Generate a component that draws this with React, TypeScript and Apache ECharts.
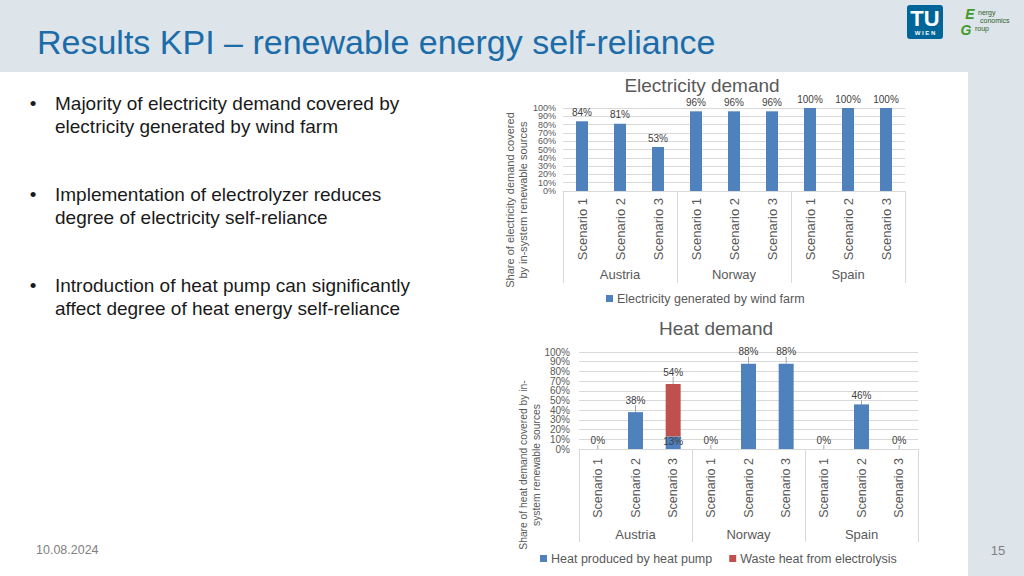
import React, { useEffect, useRef } from "react";
import * as echarts from "echarts";

const scenarios = ["Scenario 1", "Scenario 2", "Scenario 3", "Scenario 1", "Scenario 2", "Scenario 3", "Scenario 1", "Scenario 2", "Scenario 3"];
const countries = ["Austria", "Norway", "Spain"];
const elecSeriesName = "Electricity generated by wind farm";
const elecWind = [84, 81, 53, 96, 96, 96, 100, 100, 100];
const heatPumpName = "Heat produced by heat pump";
const wasteHeatName = "Waste heat from electrolysis";
const heatPump = [0, 38, 13, 0, 88, 88, 0, 46, 0];
const wasteHeat: (number | null)[] = [null, null, 54, null, null, null, null, null, null];
const movedLabels = [1, 4, 5];
const yMin = 0;
const yMax = 100;
const yStep = 10;

const bullets = [
  "Majority of electricity demand covered by\nelectricity generated by wind farm",
  "Implementation of electrolyzer reduces\ndegree of electricity self-reliance",
  "Introduction of heat pump can significantly\naffect degree of heat energy self-reliance",
];

const FONT = "'Liberation Sans', Arial, Helvetica, sans-serif";
const BLUE = "#4F81BD";
const RED = "#C0504D";
const GRID = "#d9d9d9";
const AXIS_TXT = "#595959";
const BAND = "#dde5ea";

export default function App() {
  const ref = useRef<HTMLDivElement>(null);

  useEffect(() => {
    if (!ref.current) return;
    const chart = echarts.init(ref.current, undefined, { renderer: "svg" });

    // inner ticks (10%..90%) with grid lines
    const yAxisInner = (gridIndex: number, fontSize: number, margin: number) => ({
      type: "value",
      gridIndex,
      position: "left",
      min: yMin,
      max: yMax,
      interval: yStep,
      axisLine: { show: false },
      axisTick: { show: false },
      axisLabel: {
        formatter: "{value}%", fontSize, color: AXIS_TXT, fontFamily: FONT, margin,
        showMinLabel: false, showMaxLabel: false,
      },
      splitLine: { show: true, lineStyle: { color: GRID, width: 1 } },
    });
    // end ticks (0% and 100%)
    const yAxisEnds = (gridIndex: number, fontSize: number, margin: number) => ({
      type: "value",
      gridIndex,
      position: "left",
      offset: 0,
      min: yMin,
      max: yMax,
      interval: yMax - yMin,
      axisLine: { show: false },
      axisTick: { show: false },
      axisLabel: {
        formatter: "{value}%", fontSize, color: AXIS_TXT, fontFamily: FONT, margin,
        showMinLabel: true, showMaxLabel: true,
      },
      splitLine: { show: false },
    });

    const scenarioAxis = (gridIndex: number, fontSize: number, margin: number) => ({
      type: "category",
      gridIndex,
      position: "bottom",
      data: scenarios,
      axisLine: { show: true, lineStyle: { color: GRID } },
      axisTick: { show: false },
      axisLabel: { rotate: 90, fontSize, color: AXIS_TXT, fontFamily: FONT, margin, interval: 0 },
    });

    const countryAxis = (gridIndex: number, tickLen: number, margin: number) => ({
      type: "category",
      gridIndex,
      position: "bottom",
      data: countries,
      axisLine: { show: false },
      axisTick: { show: true, length: tickLen, lineStyle: { color: GRID } },
      axisLabel: { fontSize: 13, color: AXIS_TXT, fontFamily: FONT, margin, interval: 0 },
      splitLine: { show: false },
    });

    const labelBase = {
      show: true,
      position: "top",
      distance: 4,
      fontSize: 10,
      color: "#404040",
      fontFamily: FONT,
      formatter: "{c}%",
    };

    const graphics: any[] = [
      { type: "rect", shape: { x: 0, y: 0, width: 1024, height: 72 }, style: { fill: BAND }, silent: true },
      { type: "rect", shape: { x: 968, y: 72, width: 56, height: 504 }, style: { fill: BAND }, silent: true },
      {
        type: "text", x: 37, y: 42,
        style: { text: "Results KPI – renewable energy self-reliance", fill: "#1b6ca8", fontSize: 34, fontFamily: FONT, align: "left", verticalAlign: "middle" },
      },
      // TU logo
      { type: "rect", shape: { x: 907, y: 5, width: 36, height: 34, r: 3 }, style: { fill: "#006699" } },
      { type: "text", x: 925, y: 18, style: { text: "TU", fill: "#fff", fontSize: 22, fontWeight: "bold", fontFamily: FONT, align: "center", verticalAlign: "middle" } },
      { type: "text", x: 925, y: 33, style: { text: "W I E N", fill: "#fff", fontSize: 6, fontWeight: "bold", fontFamily: FONT, align: "center", verticalAlign: "middle" } },
      // EEG logo
      { type: "text", x: 970, y: 14, style: { text: "E", fill: "#3f9a2a", fontSize: 14, fontWeight: "bold", fontStyle: "italic", fontFamily: FONT, align: "center", verticalAlign: "middle" } },
      { type: "text", x: 966, y: 30, style: { text: "G", fill: "#3f9a2a", fontSize: 14, fontWeight: "bold", fontStyle: "italic", fontFamily: FONT, align: "center", verticalAlign: "middle" } },
      { type: "text", x: 978, y: 12, style: { text: "nergy", fill: "#2f5f2a", fontSize: 7, fontFamily: FONT, align: "left", verticalAlign: "middle" } },
      { type: "text", x: 980, y: 20, style: { text: "conomics", fill: "#2f5f2a", fontSize: 7, fontFamily: FONT, align: "left", verticalAlign: "middle" } },
      { type: "text", x: 975, y: 28, style: { text: "roup", fill: "#2f5f2a", fontSize: 7, fontFamily: FONT, align: "left", verticalAlign: "middle" } },
      // chart titles
      { type: "text", x: 702, y: 85, style: { text: "Electricity demand", fill: AXIS_TXT, fontSize: 19, fontFamily: FONT, align: "center", verticalAlign: "middle" } },
      { type: "text", x: 716, y: 328, style: { text: "Heat demand", fill: AXIS_TXT, fontSize: 19, fontFamily: FONT, align: "center", verticalAlign: "middle" } },
      // axis names
      {
        type: "text", x: 516.5, y: 200, rotation: Math.PI / 2,
        style: { text: "Share of electricity demand covered\nby in-system renewable sources", fill: AXIS_TXT, fontSize: 11, lineHeight: 13, fontFamily: FONT, align: "center", verticalAlign: "middle" },
      },
      {
        type: "text", x: 530, y: 465, rotation: Math.PI / 2,
        style: { text: "Share of heat demand covered by in-\nsystem renewable sources", fill: AXIS_TXT, fontSize: 10.3, lineHeight: 13.5, fontFamily: FONT, align: "center", verticalAlign: "middle" },
      },
      // footer
      { type: "text", x: 36, y: 550, style: { text: "10.08.2024", fill: "#808080", fontSize: 12.5, fontFamily: FONT, align: "left", verticalAlign: "middle" } },
      { type: "text", x: 998, y: 550, style: { text: "15", fill: "#808080", fontSize: 13, fontFamily: FONT, align: "center", verticalAlign: "middle" } },
    ];

    const bulletCenters = [115, 206, 297];
    bullets.forEach((b, i) => {
      graphics.push({ type: "text", x: 33, y: bulletCenters[i] - 12, style: { text: "•", fill: "#1a1a1a", fontSize: 19, fontFamily: FONT, align: "center", verticalAlign: "middle" } });
      graphics.push({ type: "text", x: 55, y: bulletCenters[i], style: { text: b, fill: "#1a1a1a", fontSize: 19, lineHeight: 23.5, fontFamily: FONT, align: "left", verticalAlign: "middle" } });
    });

    const option: any = {
      animation: false,
      backgroundColor: "#ffffff",
      textStyle: { fontFamily: FONT },
      graphic: graphics,
      grid: [
        { left: 563, top: 108, width: 342, height: 83, containLabel: false },
        { left: 579, top: 352, width: 339, height: 97, containLabel: false },
      ],
      xAxis: [
        scenarioAxis(0, 13, 7),
        countryAxis(0, 92, 77),
        scenarioAxis(1, 12.5, 9),
        countryAxis(1, 93, 79),
      ],
      yAxis: [
        yAxisInner(0, 9, 7),
        yAxisEnds(0, 9, 7),
        yAxisInner(1, 10, 9),
        yAxisEnds(1, 10, 9),
      ],
      legend: [
        {
          data: [elecSeriesName], left: 601, top: 287, itemWidth: 7, itemHeight: 7, itemGap: 17, icon: "rect",
          textStyle: { fontSize: 12.5, color: AXIS_TXT, fontFamily: FONT, padding: [0, 0, 0, -1] },
        },
        {
          data: [heatPumpName, wasteHeatName], left: 535, top: 547, itemWidth: 7, itemHeight: 7, itemGap: 17, icon: "rect",
          textStyle: { fontSize: 12.5, color: AXIS_TXT, fontFamily: FONT, padding: [0, 0, 0, -1] },
        },
      ],
      series: [
        {
          name: elecSeriesName, type: "bar", xAxisIndex: 0, yAxisIndex: 0, barWidth: 12,
          itemStyle: { color: BLUE }, data: elecWind, label: { ...labelBase },
        },
        {
          name: heatPumpName, type: "bar", xAxisIndex: 2, yAxisIndex: 2, barWidth: 15, stack: "heat",
          itemStyle: { color: BLUE },
          data: heatPump.map((v, i) =>
            wasteHeat[i] != null
              ? { value: v, label: { position: "insideTop", distance: 0 } }
              : v
          ),
          label: { ...labelBase },
          labelLayout: (p: any) => (movedLabels.includes(p.dataIndex) ? { dy: -3 } : {}),
          labelLine: { show: true, length2: 0, lineStyle: { color: "#a6a6a6", width: 1 } },
        },
        {
          name: wasteHeatName, type: "bar", xAxisIndex: 2, yAxisIndex: 2, barWidth: 15, stack: "heat",
          itemStyle: { color: RED }, data: wasteHeat,
          label: { ...labelBase },
          labelLayout: { dy: -3 },
          labelLine: { show: true, length2: 0, lineStyle: { color: "#a6a6a6", width: 1 } },
        },
      ],
    };

    chart.setOption(option);
    return () => chart.dispose();
  }, []);

  return (
    <div
      ref={ref}
      style={{ position: "absolute", left: 0, top: 0, width: 1024, height: 576, background: "#fff" }}
    />
  );
}
